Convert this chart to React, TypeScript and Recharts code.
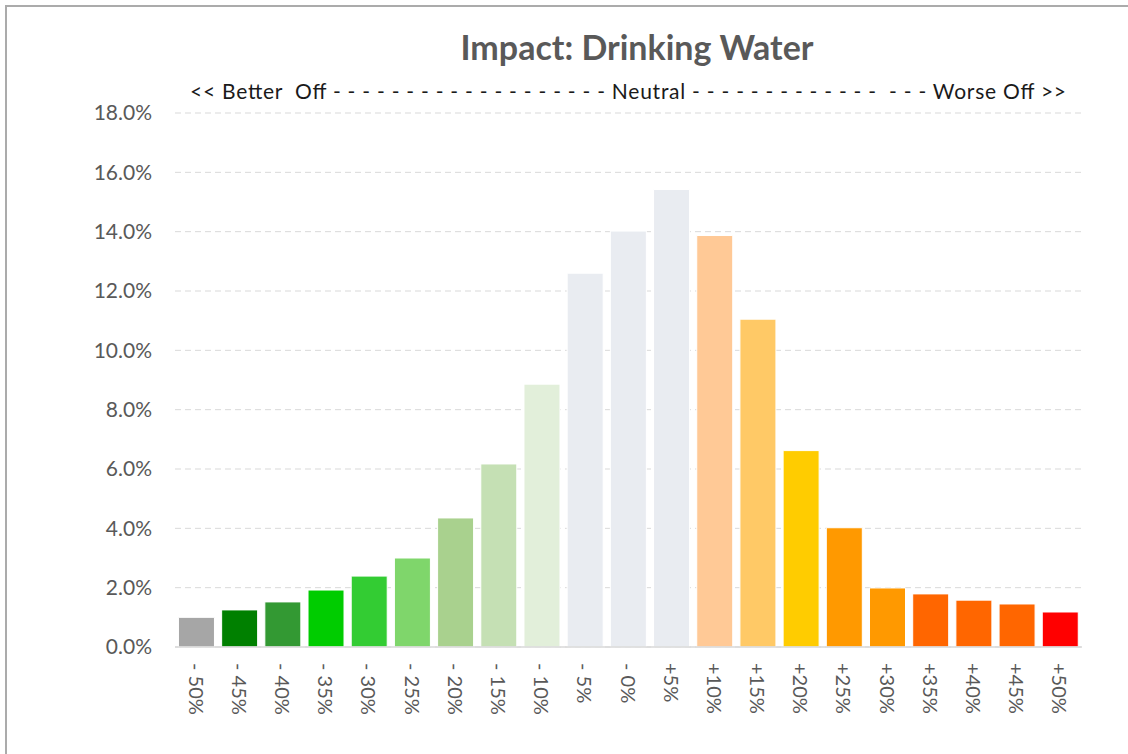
import * as React from 'react';
import { BarChart, Bar, XAxis, YAxis, CartesianGrid, Cell } from 'recharts';

// categories along the x axis
const categories = [
  '- 50%', '- 45%', '- 40%', '- 35%', '- 30%', '- 25%', '- 20%', '- 15%', '- 10%', '- 5%', '- 0%',
  '+5%', '+10%', '+15%', '+20%', '+25%', '+30%', '+35%', '+40%', '+45%', '+50%',
];

// share of outcomes, in percent
const shares = [
  1.0, 1.25, 1.52, 1.92, 2.39, 3.0, 4.35, 6.17, 8.86, 12.6, 14.02,
  15.42, 13.87, 11.05, 6.62, 4.02, 1.99, 1.79, 1.58, 1.45, 1.18,
];

const barColors = [
  '#A6A6A6', '#008000', '#339933', '#00CC00', '#33CC33', '#7FD66B', '#A9D18E', '#C5E0B4', '#E2EFDA',
  '#E9ECF1', '#E9ECF1', '#E9ECF1', '#FFC996', '#FFC966', '#FFCC00', '#FF9900', '#FF9900',
  '#FF6600', '#FF6600', '#FF6600', '#FF0000',
];

const yTicks = [0, 2, 4, 6, 8, 10, 12, 14, 16, 18];

const title = 'Impact: Drinking Water';
const subtitle =
  '<< Better  Off - - - - - - - - - - - - - - - - - - - Neutral - - - - - - - - - - - - -  - - - Worse Off >>';

const data = categories.map((label, i) => ({ label, value: shares[i] }));

const FONT = 'Lato, "Open Sans", sans-serif';

function RotatedTick({ x, y, payload }: any) {
  return (
    <text
      transform={`translate(${x},${y + 8}) rotate(90)`}
      textAnchor="start"
      dominantBaseline="central"
      fontSize={20}
      fontFamily={FONT}
      fill="#595959"
    >
      {payload.value}
    </text>
  );
}

export default function App() {
  return (
    <div style={{ position: 'absolute', left: 0, top: 0, width: 1128, height: 754, overflow: 'hidden', background: '#fff' }}>
      <div
        style={{
          position: 'absolute',
          left: 5,
          top: 5,
          width: 1140,
          height: 770,
          border: '2px solid #ABABAB',
          boxSizing: 'border-box',
        }}
      />
      <div style={{ position: 'absolute', left: 0, top: 0 }}>
        <BarChart
          width={1128}
          height={754}
          data={data}
          margin={{ top: 113, right: 46, bottom: 0, left: 75 }}
          barCategoryGap="8%"
        >
          <text x={637} y={60} textAnchor="middle" fontSize={34} fontWeight={700} fontFamily={FONT} fill="#595959">
            {title}
          </text>
          <text
            x={190}
            y={99}
            textLength={876}
            lengthAdjust="spacing"
            fontSize={21}
            fontFamily={FONT}
            fill="#1a1a1a"
            style={{ whiteSpace: 'pre' }}
          >
            {subtitle}
          </text>
          <CartesianGrid vertical={false} stroke="#D9D9D9" strokeDasharray="6 4" />
          <XAxis
            dataKey="label"
            interval={0}
            tickLine={false}
            axisLine={{ stroke: '#D9D9D9', strokeWidth: 1.5 }}
            tick={<RotatedTick />}
            height={107}
          />
          <YAxis
            width={100}
            domain={[0, 18]}
            ticks={yTicks}
            tickFormatter={(v: number) => v.toFixed(1) + '%'}
            axisLine={false}
            tickLine={false}
            tickSize={0}
            tickMargin={23}
            tick={{ fontSize: 21, fontFamily: FONT, fill: '#595959' }}
          />
          <Bar dataKey="value" isAnimationActive={false} stroke="#ffffff" strokeWidth={1}>
            {data.map((d, i) => (
              <Cell key={d.label} fill={barColors[i]} />
            ))}
          </Bar>
        </BarChart>
      </div>
    </div>
  );
}
